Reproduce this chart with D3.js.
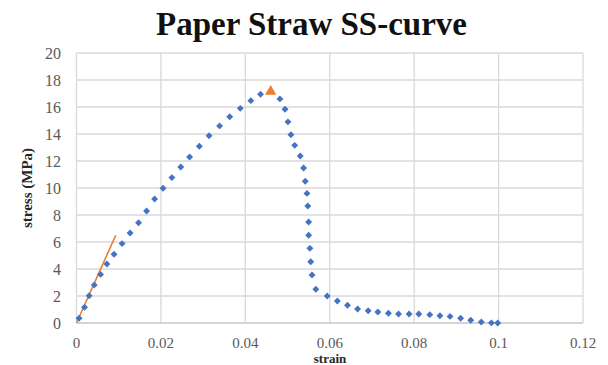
<!DOCTYPE html>
<html><head><meta charset="utf-8">
<script src="https://cdn.jsdelivr.net/npm/d3@7"></script>
<style>html,body{margin:0;padding:0;background:#fff;}svg{display:block;}</style>
</head><body>
<svg id="chart" width="608" height="365"></svg>
<script>
const title = "Paper Straw SS-curve";
const xLabel = "strain";
const yLabel = "stress (MPa)";
const xTicks = [0, 0.02, 0.04, 0.06, 0.08, 0.1, 0.12];
const yTicks = [0, 2, 4, 6, 8, 10, 12, 14, 16, 18, 20];
const strain = [0.0006,0.0019,0.0030,0.0042,0.0057,0.0072,0.0089,0.0108,0.0127,0.0147,0.0166,0.0185,0.0205,0.0226,0.0247,0.0268,0.0291,0.0314,0.0339,0.0363,0.0388,0.0413,0.0436,
  0.0482,0.0494,0.0501,0.0508,0.0517,0.0530,0.0538,0.0542,0.0546,0.0548,0.0550,0.0550,0.0553,0.0555,0.0558,0.0567,
  0.0594,0.0618,0.0642,0.0666,0.0691,0.0714,0.0739,0.0763,0.0788,0.0811,0.0837,0.0861,0.0885,0.0910,0.0934,0.0959,0.0983,0.0998];
const stress = [0.35,1.16,2.02,2.81,3.60,4.37,5.09,5.88,6.67,7.43,8.30,9.19,9.98,10.77,11.56,12.30,13.09,13.87,14.60,15.28,15.90,16.47,16.94,
  16.60,15.83,14.90,13.95,13.16,12.37,11.48,10.50,9.60,8.67,7.48,6.50,5.53,4.54,3.56,2.50,
  2.00,1.63,1.31,1.04,0.91,0.81,0.72,0.67,0.67,0.67,0.62,0.54,0.49,0.35,0.20,0.07,0.01,0.0];
const peakStrain = [0.0460];
const peakStress = [17.15];
const fitStrain = [0.0, 0.0093];
const fitStress = [0.0, 6.5];

const svg = d3.select("#chart");
const m = {left: 76.5, right: 583, top: 53, bottom: 323};
const x = d3.scaleLinear().domain([0, 0.12]).range([m.left, m.right]);
const y = d3.scaleLinear().domain([0, 20]).range([m.bottom, m.top]);

// gridlines
svg.append("g").selectAll("line.h").data(yTicks).join("line")
  .attr("x1", m.left).attr("x2", m.right)
  .attr("y1", d => y(d)).attr("y2", d => y(d))
  .attr("stroke", "#d9d9d9").attr("stroke-width", 1.3);
svg.append("g").selectAll("line.v").data(xTicks).join("line")
  .attr("y1", m.top).attr("y2", m.bottom)
  .attr("x1", d => x(d)).attr("x2", d => x(d))
  .attr("stroke", "#d9d9d9").attr("stroke-width", 1.3);
// bottom axis line
svg.append("line").attr("x1", m.left).attr("x2", m.right).attr("y1", y(0)).attr("y2", y(0))
  .attr("stroke", "#cfcfcf").attr("stroke-width", 1.5);

// tick labels
const tickFont = "'Liberation Serif','Times New Roman',serif";
svg.append("g").selectAll("text").data(yTicks).join("text")
  .attr("x", 61).attr("y", d => y(d)).attr("dy", "0.35em")
  .attr("text-anchor", "end").attr("font-family", tickFont).attr("font-size", 16)
  .attr("fill", "#595959").text(d => d);
svg.append("g").selectAll("text").data(xTicks).join("text")
  .attr("x", d => x(d)).attr("y", 348)
  .attr("text-anchor", "middle").attr("font-family", tickFont).attr("font-size", 15)
  .attr("fill", "#595959").text(d => d);

// title
svg.append("text").attr("x", 311.5).attr("y", 35).attr("text-anchor", "middle")
  .attr("font-family", tickFont).attr("font-weight", "bold").attr("font-size", 33)
  .attr("fill", "#111").text(title);
// axis titles
svg.append("text").attr("x", 330).attr("y", 363).attr("text-anchor", "middle")
  .attr("font-family", tickFont).attr("font-weight", "bold").attr("font-size", 13)
  .attr("fill", "#262626").text(xLabel);
svg.append("text").attr("transform", "translate(32,188) rotate(-90)").attr("text-anchor", "middle")
  .attr("font-family", tickFont).attr("font-weight", "bold").attr("font-size", 15)
  .attr("fill", "#262626").text(yLabel);

// fit line
svg.append("line")
  .attr("x1", x(fitStrain[0])).attr("y1", y(fitStress[0]))
  .attr("x2", x(fitStrain[1])).attr("y2", y(fitStress[1]))
  .attr("stroke", "#ED7D31").attr("stroke-width", 1.6);

// points
const pts = strain.map((s, i) => [s, stress[i]]);
svg.append("g").selectAll("path").data(pts).join("path")
  .attr("d", d3.symbol(d3.symbolSquare, 24))
  .attr("transform", d => `translate(${x(d[0])},${y(d[1])}) rotate(45)`)
  .attr("fill", "#4472C4");

// peak marker
svg.append("g").selectAll("path").data(peakStrain.map((s, i) => [s, peakStress[i]])).join("path")
  .attr("d", d3.symbol(d3.symbolTriangle, 55))
  .attr("transform", d => `translate(${x(d[0])},${y(d[1])})`)
  .attr("fill", "#ED7D31");
</script>
</body></html>
